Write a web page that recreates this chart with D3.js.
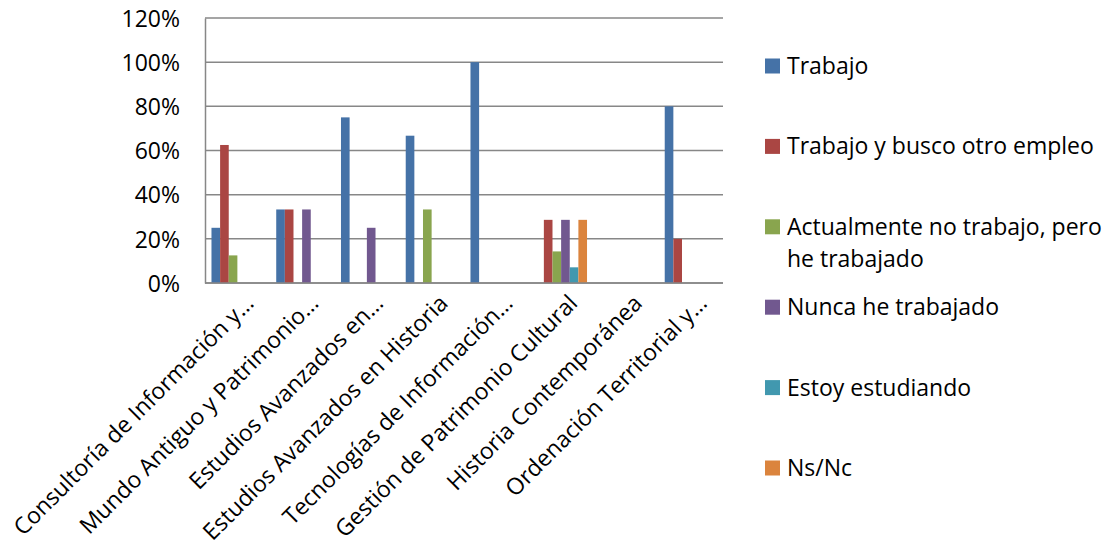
<!DOCTYPE html>
<html>
<head>
<meta charset="utf-8">
<script src="https://cdn.jsdelivr.net/npm/d3@7"></script>
<style>
  body { margin: 0; background: #fff; }
  text { font-family: "Open Sans", sans-serif; fill: #000; }
</style>
</head>
<body>
<div id="chart"></div>
<script>
// categories (x axis, truncated as in the original)
var categories = [
  "Consultoría de Información y…",
  "Mundo Antiguo y Patrimonio…",
  "Estudios Avanzados en…",
  "Estudios Avanzados en Historia",
  "Tecnologías de Información…",
  "Gestión de Patrimonio Cultural",
  "Historia Contemporánea",
  "Ordenación Territorial y…"
];

var seriesNames = [
  "Trabajo",
  "Trabajo y busco otro empleo",
  "Actualmente no trabajo, pero he trabajado",
  "Nunca he trabajado",
  "Estoy estudiando",
  "Ns/Nc"
];

// one array per series, values in %
var trabajo       = [25, 33.3, 75, 66.7, 100, 0, 0, 80];
var trabajoBusco  = [62.5, 33.3, 0, 0, 0, 28.6, 0, 20];
var actualmenteNo = [12.5, 0, 0, 33.3, 0, 14.3, 0, 0];
var nunca         = [0, 33.3, 25, 0, 0, 28.6, 0, 0];
var estudiando    = [0, 0, 0, 0, 0, 7.1, 0, 0];
var nsnc          = [0, 0, 0, 0, 0, 28.6, 0, 0];

var yTicks = [0, 20, 40, 60, 80, 100, 120];

var colors = ["#4572A7", "#AA4643", "#89A54E", "#71588F", "#4198AF", "#DB843D"];

var seriesValues = [trabajo, trabajoBusco, actualmenteNo, nunca, estudiando, nsnc];

var width = 1112;
var height = 556;
var plotLeft = 205, plotRight = 723, plotTop = 18, plotBottom = 283;
var fontSize = "23px";

var svg = d3.select("#chart").append("svg")
  .attr("width", width)
  .attr("height", height);

var x0 = d3.scaleBand()
  .domain(categories)
  .range([plotLeft, plotRight])
  .paddingInner(0)
  .paddingOuter(0);

// 150% gap width -> 0.75 of a bar on each side
var x1 = d3.scaleBand()
  .domain(d3.range(seriesNames.length))
  .range([0, x0.bandwidth()])
  .paddingInner(0)
  .paddingOuter(0.75);

var y = d3.scaleLinear()
  .domain([0, 120])
  .range([plotBottom, plotTop]);

// gridlines
svg.append("g")
  .selectAll("line")
  .data(yTicks)
  .enter().append("line")
  .attr("x1", plotLeft)
  .attr("x2", plotRight)
  .attr("y1", function(d) { return y(d); })
  .attr("y2", function(d) { return y(d); })
  .attr("stroke", "#878787")
  .attr("stroke-width", 1.5);

// y axis
var yAxis = d3.axisLeft(y)
  .tickValues(yTicks)
  .tickSize(0)
  .tickPadding(25)
  .tickFormat(function(d) { return d + "%"; });

svg.append("g")
  .attr("transform", "translate(" + plotLeft + ",0)")
  .call(yAxis)
  .call(function(g) {
    g.select(".domain").attr("stroke", "#878787").attr("stroke-width", 1.5);
    g.selectAll("text")
      .style("font-family", "'Open Sans', sans-serif")
      .style("font-size", fontSize)
      .attr("dy", "0.36em");
  });

// bars
var groups = svg.append("g")
  .selectAll("g")
  .data(categories)
  .enter().append("g")
  .attr("transform", function(d) { return "translate(" + x0(d) + ",0)"; });

groups.selectAll("rect")
  .data(function(d, i) {
    return seriesValues.map(function(s, k) { return {k: k, v: s[i]}; });
  })
  .enter().append("rect")
  .filter(function(d) { return d.v > 0; })
  .attr("x", function(d) { return x1(d.k); })
  .attr("width", x1.bandwidth())
  .attr("y", function(d) { return y(d.v); })
  .attr("height", function(d) { return y(0) - y(d.v); })
  .attr("fill", function(d) { return colors[d.k]; });

// x axis line
svg.append("line")
  .attr("x1", plotLeft).attr("x2", plotRight)
  .attr("y1", plotBottom).attr("y2", plotBottom)
  .attr("stroke", "#878787")
  .attr("stroke-width", 1.5);

// x labels, rotated
svg.append("g")
  .selectAll("text")
  .data(categories)
  .enter().append("text")
  .attr("transform", function(d) {
    var cx = x0(d) + x0.bandwidth() / 2 + 12;
    return "translate(" + cx + "," + (plotBottom + 16) + ") rotate(-45)";
  })
  .attr("text-anchor", "end")
  .attr("dy", "0.35em")
  .style("font-size", fontSize)
  .text(function(d) { return d; });

// legend
var legendItems = [
  {name: "Trabajo", lines: ["Trabajo"]},
  {name: "Trabajo y busco otro empleo", lines: ["Trabajo y busco otro empleo"]},
  {name: "Actualmente no trabajo, pero he trabajado", lines: ["Actualmente no trabajo, pero", "he trabajado"]},
  {name: "Nunca he trabajado", lines: ["Nunca he trabajado"]},
  {name: "Estoy estudiando", lines: ["Estoy estudiando"]},
  {name: "Ns/Nc", lines: ["Ns/Nc"]}
];

var legendY = d3.scalePoint()
  .domain(d3.range(legendItems.length))
  .range([66, 468]);

var legend = svg.append("g")
  .selectAll("g")
  .data(legendItems)
  .enter().append("g")
  .attr("transform", function(d, i) { return "translate(765," + legendY(i) + ")"; });

legend.append("rect")
  .attr("x", 0)
  .attr("y", -7.5)
  .attr("width", 15)
  .attr("height", 15)
  .attr("fill", function(d, i) { return colors[i]; });

legend.each(function(d) {
  var t = d3.select(this).append("text")
    .attr("x", 22)
    .attr("y", 0)
    .style("font-size", fontSize);
  d.lines.forEach(function(line, j) {
    t.append("tspan")
      .attr("x", 22)
      .attr("y", j * 32)
      .attr("dy", "0.35em")
      .text(line);
  });
});
</script>
</body>
</html>
